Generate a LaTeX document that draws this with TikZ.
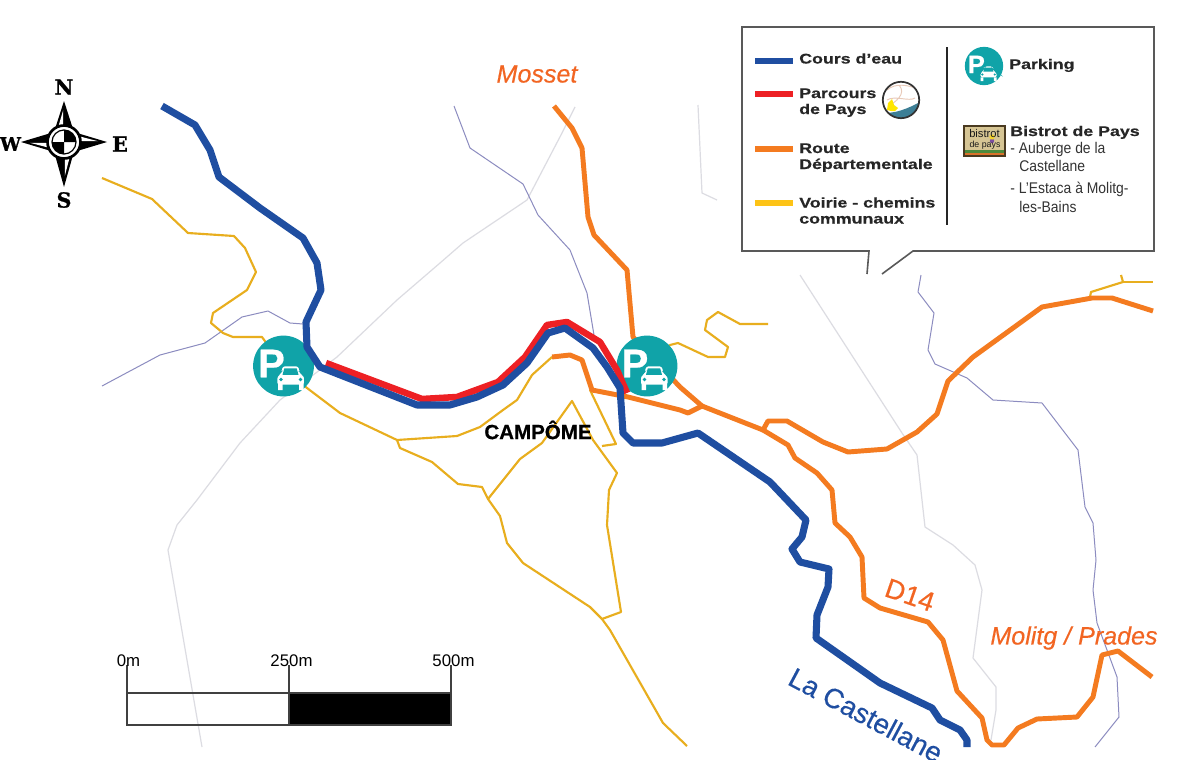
\documentclass[tikz,border=0pt]{standalone}
\usepackage{fontspec}
\setmainfont{Liberation Sans}
\newfontfamily\legbold[FakeStretch=1.27,FakeBold=0.5]{Liberation Sans Bold}
\newfontfamily\legthin[FakeStretch=0.9]{Liberation Sans}
\newfontfamily\heavy[FakeBold=0.6]{Liberation Sans Bold}
\newfontfamily\placeit[FakeBold=0.35]{Liberation Sans Italic}
\newfontfamily\placeup[FakeBold=0.35]{Liberation Sans}
\newfontfamily\compassfont[FakeBold=1]{DejaVu Serif Bold}
\definecolor{river}{HTML}{1F4EA1}
\definecolor{hike}{HTML}{ED2024}
\definecolor{road}{HTML}{F47B20}
\definecolor{lane}{HTML}{E8AE1E}
\definecolor{laneleg}{HTML}{FDC316}
\definecolor{stream}{HTML}{8C8CC0}
\definecolor{faint}{HTML}{DCDCE2}
\definecolor{teal}{HTML}{10A3A8}
\definecolor{placeorange}{HTML}{F26522}
\definecolor{iconwave}{HTML}{3D7F96}
\definecolor{iconcurve}{HTML}{E8C9B8}
\definecolor{iconyellow}{HTML}{FFE600}
\definecolor{badgebg}{HTML}{D6C594}
\definecolor{badgetop}{HTML}{4A3A20}
\definecolor{badgegreen}{HTML}{4C8A3C}
\definecolor{badgeorange}{HTML}{D9722A}
\definecolor{badgepurple}{HTML}{7A4CA0}
\definecolor{badgesun}{HTML}{F2D22E}
\tikzset{
  x=0.75pt,y=-0.75pt,
  mapline/.style={line join=round,line cap=butt},
  riverline/.style={mapline,draw=river,line width=5.3pt},
  hikeline/.style={mapline,draw=hike,line width=4.9pt},
  roadline/.style={mapline,draw=road,line width=3.7pt},
  laneline/.style={mapline,draw=lane,line width=1.6pt},
  streamline/.style={mapline,draw=stream,line width=0.75pt},
  faintline/.style={mapline,draw=faint,line width=0.9pt},
  legtext/.style={anchor=base west,inner sep=0pt,text=black!85,font=\legbold\fontsize{10.5}{12}\selectfont},
  legthintext/.style={anchor=base west,inner sep=0pt,text=black!80,font=\legthin\fontsize{11.6}{13}\selectfont},
  place/.style={inner sep=0pt,text=placeorange,font=\placeit\fontsize{18.8}{20}\selectfont},
  scalelabel/.style={inner sep=0pt,font=\fontsize{12.6}{14}\selectfont},
  compassletter/.style={inner sep=0pt,font=\compassfont\fontsize{15.5}{16}\selectfont},
  legswatch/.style={line width=4.4pt},
  scaleline/.style={draw=black!75,line width=0.9pt},
}
\newcommand{\parkmark}[4]{%
  \begin{scope}[shift={(#2,#3)},scale=#4,transform shape]
    \node[circle,fill=teal,minimum size=45.6pt,inner sep=0pt] (#1) at (0,0) {};
    \node[inner sep=0pt,text=white,font=\heavy\fontsize{30}{30}\selectfont] (#1P) at (-12,-2.5) {P};
    \fill[white,draw=teal,line width=1.2pt,rounded corners=2pt]
      (-7,19.5) -- (-7,10) -- (-3.5,7.5) -- (-1.5,-0.5) -- (15.5,-0.5) -- (17.5,7.5) -- (21.5,10) -- (21.5,19.5) -- cycle;
    \fill[white] (-5.5,18) rectangle (-1,24) (15.5,18) rectangle (20,24);
    \fill[teal] (0.8,2.4) -- (13.2,2.4) -- (15,8.8) -- (-1,8.8) -- cycle;
    \fill[teal] (-2.5,13.5) circle (1.9) (17,13.5) circle (1.9);
  \end{scope}}
\begin{document}
\begin{tikzpicture}
\useasboundingbox (0,0) rectangle (1200,760);
\clip (0,0) rectangle (1200,760);
\fill[white] (0,0) rectangle (1200,760);

% faint lines
\draw[faintline] (575,107) -- (562,133) -- (527,200) -- (463,243) -- (440,263) -- (397,300) -- (337,357) -- (280,400) -- (240,443) -- (197,500) -- (177,525) -- (168,550) -- (202,747);
\draw[faintline] (698,105) -- (702,193) -- (717,200);
\draw[faintline] (800,275) -- (902,433) -- (917,455) -- (925,527) -- (953,545) -- (975,565) -- (982,590) -- (973,658) -- (996,687) -- (996,710) -- (991,740);
% streams
\draw[streamline] (102,386) -- (160,355) -- (205,343) -- (242,317) -- (268,311) -- (290,323) -- (303,324);
\draw[streamline] (454,106) -- (470,148) -- (523,184) -- (538,215) -- (570,250) -- (587,293) -- (594,335);
\draw[streamline] (921,275) -- (918,292) -- (934,313) -- (928,350) -- (935,364) -- (967,378) -- (993,400) -- (1042,403) -- (1078,450) -- (1085,507) -- (1093,523) -- (1096,560) -- (1093,590) -- (1097,623) -- (1117,677) -- (1119,717) -- (1095,747);

% lanes
\draw[laneline] (102,178) -- (152,199) -- (188,233) -- (234,236) -- (245,248) -- (256,272) -- (247,290) -- (213,313) -- (211,323) -- (223,333) -- (233,337) -- (262,337) -- (283,366) -- (307,388) -- (340,413) -- (397,440) -- (457,436) -- (480,427) -- (503,410) -- (517,400) -- (532,375) -- (552,357);
\draw[laneline] (397,440) -- (400,448) -- (432,462) -- (458,484) -- (482,487) -- (488,499) -- (500,516) -- (507,543) -- (523,563) -- (590,607) -- (602,619) -- (610,630) -- (663,723) -- (687,746);
\draw[laneline] (488,499) -- (520,459) -- (542,443) -- (572,401) -- (593,440) -- (617,473) -- (609,490) -- (607,525) -- (621,612) -- (602,619);
\draw[laneline] (590,390) -- (616,444) -- (602,446);
\draw[laneline] (648,366) -- (670,345) -- (678,343) -- (708,357) -- (725,357) -- (728,347) -- (705,330) -- (707,320) -- (718,312) -- (740,324) -- (768,324);
\draw[laneline] (1090,297) -- (1091,292) -- (1123,282) -- (1121,275);
\draw[laneline] (1123,282) -- (1153,282);

% roads
\draw[roadline] (554,106) -- (572,128) -- (582,148) -- (588,217) -- (594,235) -- (627,270) -- (633,337) -- (680,387) -- (702,406);
\draw[roadline] (552,357) -- (570,355) -- (582,360) -- (592,390) -- (628,397) -- (680,410) -- (688,413) -- (702,406) -- (763,430) -- (768,421) -- (787,421) -- (823,442) -- (848,452) -- (887,449) -- (917,432) -- (937,414) -- (948,381) -- (973,357) -- (1042,307) -- (1092,298) -- (1112,298) -- (1153,311);
\draw[roadline] (763,430) -- (788,445) -- (795,458) -- (817,473) -- (832,490) -- (835,523) -- (850,537) -- (862,557) -- (864,598) -- (880,608) -- (928,622) -- (943,640) -- (957,691) -- (982,718) -- (987,740) -- (992,745) -- (1004,745) -- (1018,728) -- (1037,719) -- (1077,717) -- (1093,697) -- (1102,655) -- (1118,651) -- (1152,677);

% parkings
\parkmark{parkwest}{283.5}{366}{1}
\parkmark{parkeast}{647}{366}{1}

% hiking route and river
\draw[hikeline] (326,363) -- (422,399) -- (457,397) -- (498,382) -- (525,357) -- (547,325) -- (567,322) -- (600,342) -- (617,370) -- (627,393);
\draw[riverline] (162,106) -- (195,125) -- (210,150) -- (219,177) -- (260,208) -- (303,238) -- (317,263) -- (321,290) -- (306,322) -- (307,347) -- (320,367) -- (417,405) -- (450,405) -- (477,397) -- (503,385) -- (527,363) -- (548,333) -- (565,328) -- (593,348) -- (607,367) -- (620,388) -- (623,433) -- (633,443) -- (662,443) -- (698,433) -- (770,482) -- (806,520) -- (802,537) -- (792,549) -- (800,562) -- (829,569) -- (828,587) -- (817,615) -- (816,638) -- (880,683) -- (932,708) -- (940,720) -- (960,730) -- (967,740) -- (967,747);

% map labels
\node[inner sep=0pt,font=\heavy\fontsize{15.4}{17}\selectfont] (campome) at (538,430) {CAMPÔME};
\node[place] (mosset) at (537,74) {Mosset};
\node[place] (molitg) at (1074,638) {Molitg / Prades};
\node[inner sep=0pt,text=placeorange,rotate=-19,font=\placeup\fontsize{20.5}{22}\selectfont] (d14) at (910,595) {D14};
\node[inner sep=0pt,text=river,rotate=-28,font=\placeup\fontsize{20.8}{22}\selectfont] (castellane) at (866,715) {La Castellane};

% compass
\begin{scope}[shift={(64,142)}]
  \fill[black] (0,-41) -- (-9,-13) -- (9,-13) -- cycle;
  \fill[black] (0,45) -- (-9,13) -- (9,13) -- cycle;
  \fill[black] (-43,0) -- (-13,-9) -- (-13,9) -- cycle;
  \fill[black] (43,0) -- (13,-9) -- (13,9) -- cycle;
  \fill[white] (-0.8,-32) -- (-6,-14) -- (-0.8,-14) -- cycle;
  \fill[white] (0.8,34) -- (6,14) -- (0.8,14) -- cycle;
  \fill[white] (-34,0.8) -- (-14,6) -- (-14,0.8) -- cycle;
  \fill[white] (34,-0.8) -- (14,-6) -- (14,-0.8) -- cycle;
  \filldraw[fill=white,draw=black,line width=2pt] (0,0) circle (16.5);
  \filldraw[fill=white,draw=black,line width=0.9pt] (0,0) circle (12);
  \fill[black] (0,0) -- (-12,0) arc[start angle=180,end angle=90,radius=12] -- cycle;
  \fill[black] (0,0) -- (12,0) arc[start angle=0,end angle=-90,radius=12] -- cycle;
\end{scope}
\node[compassletter] (north) at (64,87) {N};
\node[compassletter] (south) at (64,200) {S};
\node[compassletter,font=\compassfont\fontsize{14}{16}\selectfont] (west) at (10.5,144) {W};
\node[compassletter] (east) at (120,144) {E};

% scale bar
\fill[black] (289,693) rectangle (451,725);
\draw[scaleline] (127,665) -- (127,725) -- (451,725) -- (451,665);
\draw[scaleline] (127,693) -- (451,693);
\draw[scaleline] (289,665) -- (289,725);
\node[scalelabel] (s0) at (128.5,661) {0m};
\node[scalelabel] (s250) at (291.5,661) {250m};
\node[scalelabel] (s500) at (453.5,661) {500m};

% legend callout
\fill[white] (742,27) rectangle (1154,251);
\draw[draw=black!65,line width=1.2pt,line join=miter] (867,274) -- (869,251) -- (742,251) -- (742,27) -- (1154,27) -- (1154,251) -- (913,251) -- (882,274);
\draw[black!85,line width=1pt] (947,47) -- (947,225);

\draw[legswatch,river] (755,61) -- (793,61);
\draw[legswatch,hike] (755,94) -- (793,94);
\draw[legswatch,road] (755,149) -- (793,149);
\draw[legswatch,laneleg] (755,203) -- (793,203);

\node[legtext] (l1) at (799,63.5) {Cours d’eau};
\node[legtext] (l2) at (799,98) {Parcours};
\node[legtext] (l2b) at (799,114) {de Pays};
\node[legtext] (l3) at (799,153) {Route};
\node[legtext] (l3b) at (799,169) {Départementale};
\node[legtext] (l4) at (799,207.5) {Voirie - chemins};
\node[legtext] (l4b) at (799,223.5) {communaux};
\node[legtext] (l5) at (1009,69) {Parking};
\node[legtext] (l6) at (1010,136) {Bistrot de Pays};
\node[legthintext] (l7) at (1010,153) {- Auberge de la};
\node[legthintext] (l7b) at (1019,171) {Castellane};
\node[legthintext] (l8) at (1010,193) {- L’Estaca à Molitg-};
\node[legthintext] (l8b) at (1019,212) {les-Bains};

\parkmark{parkleg}{984}{66}{0.63}

% hiking icon
\begin{scope}[shift={(901,100)}]
  \fill[white] (0,0) circle (18.2);
  \begin{scope}
    \clip (0,0) circle (18.2);
    \fill[iconwave] (-19,12) .. controls (-8,15) and (8,8) .. (19,2) -- (19,19) -- (-19,19) -- cycle;
    \draw[iconcurve,line width=0.7pt] (-14,-10) .. controls (-5,-18) and (8,-14) .. (15,-12) (-2,-15) .. controls (6,-6) and (-6,2) .. (-12,6) (-14,0) .. controls (-6,-5) and (8,2) .. (14,-2);
    \fill[iconyellow] (-13,3) -- (-9,-1) -- (-7,5) -- (-3,8) -- (-6,11) -- (-10,11) -- (-14,10) -- cycle;
  \end{scope}
  \draw[black!80,line width=1.3pt] (0,0) circle (18.2);
\end{scope}

% bistrot badge
\fill[badgebg] (964,126) rectangle (1005,156);
\fill[badgegreen] (964,150) rectangle (1005,153);
\fill[badgeorange] (964,153) rectangle (1005,156);
\fill[badgepurple] (992,141) circle (2.2);
\fill[badgesun] (992,137) circle (2.6);
\draw[badgetop,line width=1pt] (964,126) rectangle (1005,156);
\node[inner sep=0pt,text=black!90,font=\fontsize{8.4}{9}\selectfont] (bistrotA) at (984.5,133.5) {bistrot};
\node[inner sep=0pt,text=black!90,font=\fontsize{6.6}{7}\selectfont] (bistrotB) at (985,145) {de pays};
\end{tikzpicture}
\end{document}
